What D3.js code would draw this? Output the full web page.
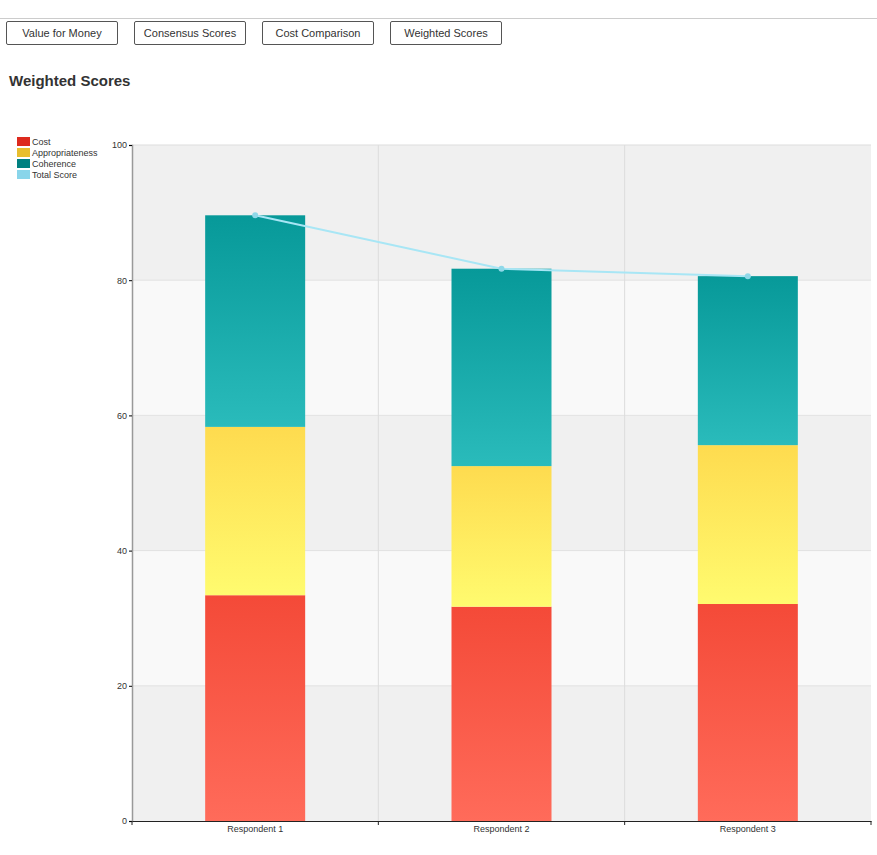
<!DOCTYPE html>
<html><head><meta charset="utf-8">
<script src="https://cdn.jsdelivr.net/npm/d3@7"></script>
<style>
body{margin:0;font-family:Arial,"Liberation Sans",sans-serif;background:#fff}
.top{border-bottom:1px solid #ccc;height:18px}
.btn{position:absolute;top:21px;height:22px;border:1px solid #555;border-radius:2px;font-size:11px;color:#333;text-align:center;line-height:22px;background:#fff}
h3{position:absolute;left:9px;top:72px;margin:0;font-size:15px;color:#333}
svg{position:absolute;left:0;top:0}
</style></head><body>
<div class="top"></div>
<script>
var buttons = ["Value for Money","Consensus Scores","Cost Comparison","Weighted Scores"];
var respondents = ["Respondent 1","Respondent 2","Respondent 3"];
var cost = [33.4, 31.7, 32.1];
var appropriateness = [24.9, 20.8, 23.5];
var coherence = [31.3, 29.2, 25.0];
var totalScore = [89.6, 81.7, 80.6];
var yTicks = [0,20,40,60,80,100];

var btnX = [6,134,262,390];
buttons.forEach(function(b,i){
  d3.select("body").append("div").attr("class","btn")
    .style("left",btnX[i]+"px").style("width","110px").text(b);
});
d3.select("body").append("h3").text("Weighted Scores");

var svg = d3.select("body").append("svg").attr("width",877).attr("height",855);
var defs = svg.append("defs");
var grads = [["gc","#f44a38","#ff6b5a"],["ga","#fedb4f","#fffb6f"],["gh","#079999","#2abbbb"],["gt","#8fd8e8","#a8e6f5"]];
grads.forEach(function(g){
  var lg = defs.append("linearGradient").attr("id",g[0]).attr("x1",0).attr("y1",0).attr("x2",0).attr("y2",1);
  lg.append("stop").attr("offset","0%").attr("stop-color",g[1]);
  lg.append("stop").attr("offset","100%").attr("stop-color",g[2]);
});

var L=132,R=871,T=145,B=821;
var x = d3.scaleBand().domain(respondents).range([L,R]);
var y = d3.scaleLinear().domain([0,100]).range([B,T]);

// background bands
for (var i=0;i<yTicks.length-1;i++){
  svg.append("rect").attr("x",L).attr("width",R-L)
    .attr("y",y(yTicks[i+1])).attr("height",y(yTicks[i])-y(yTicks[i+1]))
    .attr("fill", i%2==0 ? "#f0f0f0" : "#f9f9f9");
}
yTicks.slice(1,-1).forEach(function(t){
  svg.append("line").attr("x1",L).attr("x2",R).attr("y1",y(t)).attr("y2",y(t)).attr("stroke","#e2e2e2");
});
respondents.slice(1).forEach(function(r){
  svg.append("line").attr("x1",x(r)).attr("x2",x(r)).attr("y1",T).attr("y2",B).attr("stroke","#dcdcdc");
});
svg.append("line").attr("x1",L).attr("x2",R).attr("y1",T).attr("y2",T).attr("stroke","#ddd");

var series = [[cost,"url(#gc)"],[appropriateness,"url(#ga)"],[coherence,"url(#gh)"]];
var bw = 100;
respondents.forEach(function(r,i){
  var base = 0;
  series.forEach(function(s){
    var v = s[0][i];
    svg.append("rect").attr("x",x(r)+x.bandwidth()/2-bw/2).attr("width",bw)
      .attr("y",y(base+v)).attr("height",y(base)-y(base+v)).attr("fill",s[1]);
    base += v;
  });
});

var line = d3.line().x(function(d,i){return x(respondents[i])+x.bandwidth()/2;}).y(function(d){return y(d);});
svg.append("path").attr("d",line(totalScore)).attr("fill","none").attr("stroke","#a8e6f5").attr("stroke-width",2);
svg.selectAll(".pt").data(totalScore).enter().append("circle")
  .attr("cx",function(d,i){return x(respondents[i])+x.bandwidth()/2;}).attr("cy",function(d){return y(d);})
  .attr("r",3).attr("fill","#8fd8e8");

var ya = svg.append("g").attr("transform","translate("+L+",0)")
  .call(d3.axisLeft(y).tickValues(yTicks).tickSize(3).tickPadding(2));
ya.select(".domain").attr("stroke","#999").attr("stroke-width",1.5);
ya.selectAll("text").attr("font-size",9).attr("fill","#333");
var xa = svg.append("g").attr("transform","translate(0,"+B+")")
  .call(d3.axisBottom(x).tickSize(0).tickPadding(5));
xa.select(".domain").attr("stroke","#222").attr("stroke-width",1.2);
xa.selectAll("text").attr("font-size",9).attr("fill","#333");
[L].concat(respondents.slice(1).map(function(r){return x(r);})).concat([R]).forEach(function(px){
  svg.append("line").attr("x1",px).attr("x2",px).attr("y1",B).attr("y2",B+4).attr("stroke","#222");
});

var legend = ["Cost","Appropriateness","Coherence","Total Score"];
legend.forEach(function(l,i){
  var g = svg.append("g").attr("transform","translate(17,"+(137+i*11)+")");
  g.append("rect").attr("width",13).attr("height",9).attr("fill",["#dd2a1e","#e8be2e","#008080","#89d5ea"][i]);
  g.append("text").attr("x",15).attr("y",7.5).attr("font-size",9).attr("fill","#333").text(l);
});
</script>
</body></html>
